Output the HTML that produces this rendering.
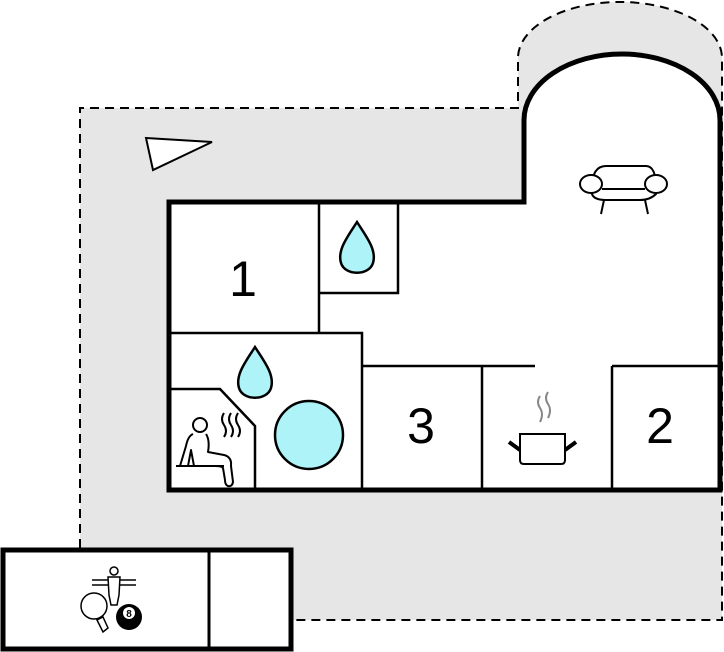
<!DOCTYPE html>
<html><head><style>body{margin:0;background:#fff}svg{display:block}</style></head><body>
<svg width="724" height="652" viewBox="0 0 724 652" xmlns="http://www.w3.org/2000/svg">
<path d="M80,108 L518,108 L518,58 A102,56 0 0 1 722,58 L722,620 L292,620 L292,548 L80,548 Z" fill="#e6e6e6" stroke="none"/>
<path d="M80,548 L80,108 L518,108 L518,58 A102,56 0 0 1 722,58 L722,620 L292,620" fill="none" stroke="#000" stroke-width="2" stroke-dasharray="9,6"/>
<polygon points="146,138 212,142 153,170" fill="#fff" stroke="#000" stroke-width="2"/>
<path d="M169,202 L524,202 L524,120 A98,66 0 0 1 720,120 L720,490 L169,490 Z" fill="#fff" stroke="#000" stroke-width="5"/>
<g fill="none" stroke="#000" stroke-width="2.5">
<path d="M319,202 L319,333"/>
<path d="M319,293 L398,293 L398,202"/>
<path d="M169,333 L362,333 L362,490"/>
<path d="M362,366 L535,366 M612,366 L720,366"/>
<path d="M482,366 L482,490 M612,366 L612,490"/>
<path d="M169,389 L220,389 L255,426 L255,490"/>
</g>
<g font-family="Liberation Sans, sans-serif" font-size="50" text-anchor="middle" fill="#000">
<text x="243" y="296">1</text><text x="421" y="443">3</text><text x="660" y="443">2</text>
</g>
<g fill="#aef3f8" stroke="#000" stroke-width="2.5">
<path d="M357,222 C366,236 377,250 373,263 C369,276 345,276 341,263 C337,250 348,236 357,222 Z"/>
<path d="M255,347 C264,361 275,375 271,388 C267,401 243,401 239,388 C235,375 246,361 255,347 Z"/>
<circle cx="309" cy="435" r="34"/>
</g>
<!-- sauna person -->
<g fill="none" stroke="#000" stroke-width="2" stroke-linejoin="round">
<circle cx="200" cy="425" r="7"/>
<path d="M193,434 Q188,436 186,446 L180,466 M206,434 Q210,440 208,452 L224,455 Q232,457 231,466 L233,482 Q232,487 228,486 Q225,485 225,480 L223,468 Q222,466 215,466 L188,466 L191,450 L194,466"/>
<path d="M176,466 L224,466"/>
<path d="M224,413 q-4,6 0,12 q4,6 0,12 M231,413 q-4,6 0,12 q4,6 0,12 M238,413 q-4,6 0,12 q4,6 0,12"/>
</g>
<!-- pot -->
<g fill="none" stroke="#000" stroke-width="2">
<path d="M520,434 L565,434 L565,460 Q565,464 561,464 L524,464 Q520,464 520,460 Z" fill="#fff"/>
<path d="M509,442 L520,450 M576,442 L565,450" stroke-width="4"/>
</g>
<g fill="none" stroke="#888" stroke-width="2">
<path d="M540,396 q-4,6 0,12 q4,6 0,14 M548,392 q-4,6 0,12 q4,6 0,14"/>
</g>
<!-- sofa -->
<g fill="#fff" stroke="#000" stroke-width="2">
<path d="M592,188 Q592,166 606,166 L646,166 Q656,166 656,188 L656,194 Q650,200 640,200 L606,200 Q594,200 592,194 Z"/>
<ellipse cx="591" cy="184" rx="11" ry="9"/>
<ellipse cx="656" cy="184" rx="11" ry="9"/>
<path d="M602,189 L645,189" fill="none"/>
<path d="M604,200 L601,214 M645,200 L648,214" fill="none"/>
</g>
<!-- game room -->
<rect x="3" y="550" width="288" height="99" fill="#fff" stroke="#000" stroke-width="5"/>
<path d="M209,550 L209,649" stroke="#000" stroke-width="3"/>
<g stroke="#000" stroke-width="1.5" fill="#fff">
<path d="M92,580 L136,580 M92,585 L136,585" fill="none"/>
<circle cx="114" cy="571" r="4"/>
<path d="M108,577 L120,577 L119,595 L117,605 L111,605 L109,595 Z"/>
<path d="M97,620 L103,632 L108,628 L103,617 Z"/>
<circle cx="94" cy="606" r="13"/>
</g>
<circle cx="129" cy="617" r="13" fill="#000"/>
<circle cx="129" cy="613" r="6" fill="#fff"/>
<text x="129" y="617" font-family="Liberation Sans, sans-serif" font-size="10" font-weight="bold" text-anchor="middle">8</text>
</svg>
</body></html>
